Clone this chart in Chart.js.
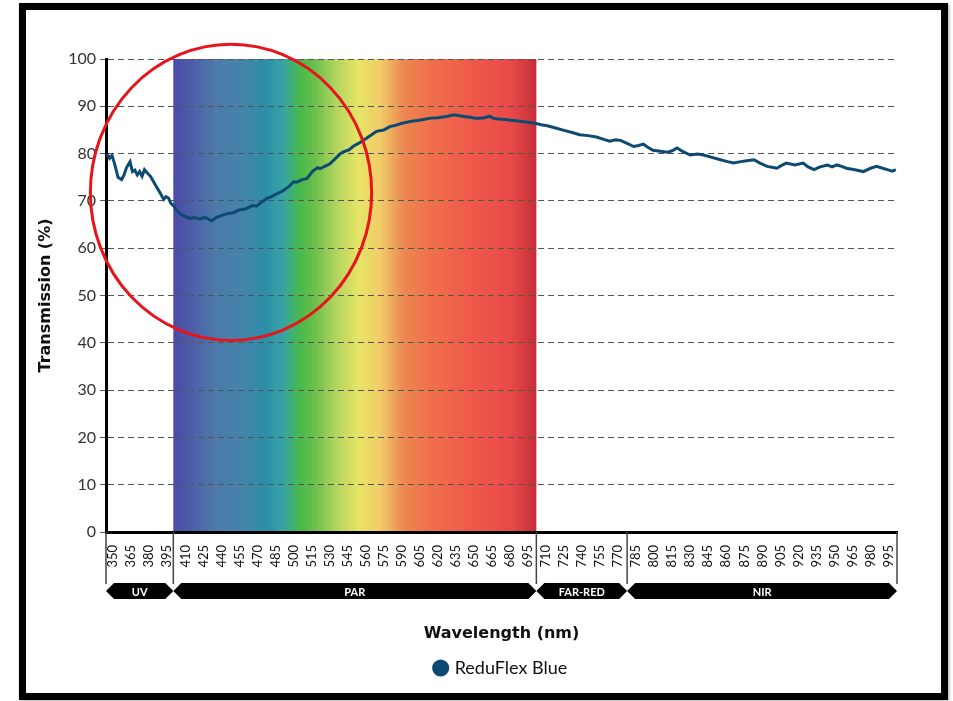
<!DOCTYPE html>
<html>
<head>
<meta charset="utf-8">
<script src="https://cdn.jsdelivr.net/npm/chart.js@4.4.1/dist/chart.umd.min.js"></script>
<style>
  html, body { margin: 0; padding: 0; background: #fff; }
  #frame {
    position: absolute; left: 19px; top: 3px; width: 929px; height: 697px;
    box-sizing: border-box; border: 7px solid #000;
    box-shadow: 1px 1px 3px rgba(0,0,0,.35);
  }
  #chart { position: absolute; left: 0; top: 0; }
</style>
</head>
<body>
<div id="frame"></div>
<canvas id="chart" width="953" height="701"></canvas>
<script>
// wavelength (nm) and transmission (%)
const wavelengths = [
  345, 347, 349, 351, 354, 357, 359, 361, 364, 366, 368, 370, 372, 374, 376, 378,
  381, 385, 389, 392, 394, 396, 398, 400, 403, 406, 410, 414, 417, 422, 426, 428,
  432, 436, 441, 445, 450, 455, 460, 466, 469, 474, 478, 481, 486, 491, 496, 500,
  503, 507, 511, 516, 520, 522, 526, 530, 535, 539, 541, 546, 550, 553, 557, 561,
  565, 569, 575, 580, 585, 590, 597, 603, 608, 614, 620, 626, 630, 634, 638, 643,
  647, 651, 655, 659, 663, 666, 670, 676, 683, 690, 696, 701, 706, 711, 718, 725,
  731, 738, 745, 752, 758, 763, 768, 772, 777, 783, 787, 791, 795, 799, 805, 811,
  815, 819, 824, 830, 836, 841, 848, 855, 861, 866, 872, 877, 883, 888, 894, 898,
  902, 906, 910, 917, 924, 928, 933, 938, 944, 948, 952, 956, 960, 967, 974, 980,
  985, 990, 994, 998, 1001
];
const transmission = [
  80.0, 79.0, 79.6, 78.0, 75.0, 74.5, 75.5, 77.0, 78.3, 76.2, 76.5, 75.5, 76.2, 75.2, 76.6, 76.0,
  75.2, 73.4, 71.7, 70.3, 70.9, 70.6, 69.5, 69.0, 68.0, 67.2, 66.7, 66.3, 66.5, 66.2, 66.5, 66.3,
  65.8, 66.5, 67.0, 67.3, 67.5, 68.1, 68.3, 69.0, 68.9, 69.8, 70.6, 70.8, 71.5, 72.1, 73.0, 74.0,
  74.0, 74.5, 74.7, 76.3, 77.0, 76.8, 77.3, 77.8, 79.0, 80.0, 80.3, 80.8, 81.6, 82.0, 82.6, 83.3,
  84.0, 84.7, 85.0, 85.7, 86.0, 86.4, 86.8, 87.0, 87.2, 87.5, 87.6, 87.8, 88.0, 88.2, 88.0, 87.8,
  87.7, 87.5, 87.5, 87.6, 87.9, 87.5, 87.3, 87.2, 87.0, 86.8, 86.6, 86.4, 86.1, 85.9, 85.4, 84.9,
  84.5, 84.0, 83.8, 83.5, 83.0, 82.6, 82.9, 82.8, 82.2, 81.5, 81.7, 82.0, 81.3, 80.7, 80.5, 80.3,
  80.6, 81.2, 80.4, 79.7, 79.9, 79.7, 79.2, 78.7, 78.3, 78.0, 78.3, 78.5, 78.7, 78.0, 77.3, 77.1,
  76.9, 77.5, 78.0, 77.6, 78.0, 77.2, 76.6, 77.2, 77.6, 77.2, 77.6, 77.3, 76.9, 76.6, 76.2, 76.9,
  77.3, 76.9, 76.6, 76.3, 76.6
];

const xTickLabels = [
  350, 365, 380, 395, 410, 425, 440, 455, 470, 485, 500, 515, 530, 545, 560,
  575, 590, 605, 620, 635, 650, 665, 680, 695, 710, 725, 740, 755, 770, 785,
  800, 815, 830, 845, 860, 875, 890, 905, 920, 935, 950, 965, 980, 995
];
const yTickValues = [0, 10, 20, 30, 40, 50, 60, 70, 80, 90, 100];

const bandNames = ['UV', 'PAR', 'FAR-RED', 'NIR'];
const bandEdges = [344, 400, 702, 777.5, 1002];   // nm

// highlighted region (nm / %)
const highlight = { x: 448, y: 71.8, rx: 117, ry: 31.3 };

const navy = '#0d4a73';
const spectrumStops = [
  [0.000, '#4a4aa6'], [0.061, '#4d62a8'], [0.116, '#4d7aab'], [0.198, '#4285aa'],
  [0.253, '#2c8ea9'], [0.303, '#38a3a4'], [0.328, '#3fb072'], [0.350, '#4ab84a'],
  [0.391, '#6cbf4c'], [0.446, '#b0d460'], [0.510, '#e7e466'], [0.570, '#f0cc68'],
  [0.612, '#eca058'], [0.639, '#ee8450'], [0.708, '#ef704a'], [0.818, '#ef5a4a'],
  [0.928, '#e84a48'], [1.000, '#c52f3a']
];

Chart.defaults.font.family = 'Lato, "Open Sans", sans-serif';
const titleFont = '"DejaVu Sans", sans-serif';

const spectrumPlugin = {
  id: 'spectrum',
  beforeDraw(chart) {
    const { ctx, chartArea, scales: { x } } = chart;
    const x0 = x.getPixelForValue(bandEdges[1]);
    const x1 = x.getPixelForValue(bandEdges[2]);
    const g = ctx.createLinearGradient(x0, 0, x1, 0);
    spectrumStops.forEach(s => g.addColorStop(s[0], s[1]));
    ctx.save();
    ctx.fillStyle = g;
    ctx.fillRect(x0, chartArea.top, x1 - x0, chartArea.bottom - chartArea.top);
    ctx.restore();
  }
};

const decorPlugin = {
  id: 'decor',
  afterDraw(chart) {
    const { ctx, chartArea, scales: { x, y } } = chart;
    const base = chartArea.bottom;
    ctx.save();

    // rotated wavelength labels
    ctx.fillStyle = '#111';
    ctx.font = '13px Lato, sans-serif';
    ctx.textAlign = 'right';
    ctx.textBaseline = 'middle';
    xTickLabels.forEach(v => {
      const px = x.getPixelForValue(v);
      ctx.save();
      ctx.translate(px, base + 13);
      ctx.rotate(-Math.PI / 2);
      ctx.fillText(String(v), 0, 0);
      ctx.restore();
    });

    // band separators
    ctx.strokeStyle = '#444';
    ctx.lineWidth = 1.5;
    bandEdges.forEach(e => {
      const px = x.getPixelForValue(e);
      ctx.beginPath();
      ctx.moveTo(px, base);
      ctx.lineTo(px, base + 52);
      ctx.stroke();
    });

    // band banners
    const top = base + 51, bot = base + 67, mid = (top + bot) / 2, d = 8;
    ctx.font = 'bold 11px Lato, sans-serif';
    ctx.textAlign = 'center';
    bandNames.forEach((name, i) => {
      const a = x.getPixelForValue(bandEdges[i]);
      const b = x.getPixelForValue(bandEdges[i + 1]);
      ctx.fillStyle = '#000';
      ctx.beginPath();
      ctx.moveTo(a, mid);
      ctx.lineTo(a + d, top);
      ctx.lineTo(b - d, top);
      ctx.lineTo(b, mid);
      ctx.lineTo(b - d, bot);
      ctx.lineTo(a + d, bot);
      ctx.closePath();
      ctx.fill();
      ctx.fillStyle = '#fff';
      ctx.fillText(name, (a + b) / 2, mid + 1);
    });

    // red highlight ring
    const cx = x.getPixelForValue(highlight.x);
    const cy = y.getPixelForValue(highlight.y);
    const rx = x.getPixelForValue(highlight.x + highlight.rx) - cx;
    const ry = cy - y.getPixelForValue(highlight.y + highlight.ry);
    ctx.strokeStyle = '#e8141c';
    ctx.lineWidth = 3;
    ctx.beginPath();
    ctx.ellipse(cx, cy, rx, ry, 0, 0, Math.PI * 2);
    ctx.stroke();
    ctx.restore();
  }
};

new Chart(document.getElementById('chart'), {
  type: 'line',
  data: {
    datasets: [{
      label: 'ReduFlex Blue',
      data: wavelengths.map((w, i) => ({ x: w, y: transmission[i] })),
      borderColor: navy,
      backgroundColor: navy,
      borderWidth: 3,
      pointRadius: 0,
      pointStyle: 'circle',
      tension: 0
    }]
  },
  options: {
    responsive: false,
    animation: false,
    layout: { padding: { top: 59, right: 56, left: 0, bottom: 14 } },
    plugins: {
      tooltip: { enabled: false },
      legend: {
        position: 'bottom',
        fullSize: false,
        labels: {
          usePointStyle: true,
          boxWidth: 10,
          boxHeight: 10,
          padding: 10,
          color: '#111',
          font: { size: 18 }
        }
      }
    },
    scales: {
      x: {
        type: 'linear',
        min: bandEdges[0],
        max: bandEdges[bandEdges.length - 1],
        grid: { display: false, drawTicks: false },
        border: { color: '#000', width: 3 },
        ticks: { display: false },
        title: {
          display: true,
          text: 'Wavelength (nm)',
          color: '#111',
          font: { family: titleFont, size: 16, weight: 'bold' },
          padding: { top: 0, bottom: 6 }
        },
        afterFit: s => { s.height = 117; }
      },
      y: {
        min: 0,
        max: 100,
        afterBuildTicks: s => { s.ticks = yTickValues.map(v => ({ value: v })); },
        ticks: { color: '#333', font: { size: 16 }, padding: 4 },
        grid: { color: '#555', lineWidth: 1, tickLength: 6 },
        border: { color: '#000', width: 3, dash: [6, 4] },
        title: {
          display: true,
          text: 'Transmission (%)',
          color: '#111',
          font: { family: titleFont, size: 16, weight: 'bold' },
          padding: { top: 36 }
        },
        afterFit: s => { s.width = 106; }
      }
    }
  },
  plugins: [spectrumPlugin, decorPlugin]
});
</script>
</body>
</html>
